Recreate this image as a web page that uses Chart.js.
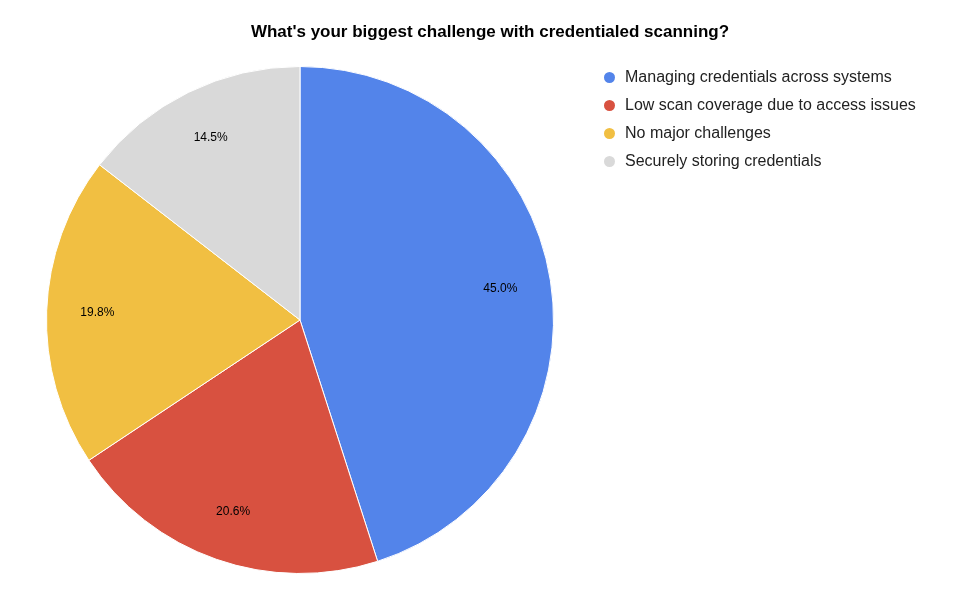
<!DOCTYPE html>
<html><head><meta charset="utf-8">
<script src="https://cdn.jsdelivr.net/npm/chart.js@4"></script>
<style>
body{margin:0;background:#fff;font-family:"Liberation Sans",Arial,sans-serif;}
#wrap{position:relative;width:980px;height:596px;}
#title{position:absolute;top:22px;left:0;width:980px;text-align:center;font-weight:bold;font-size:17px;color:#000;}
#legend{position:absolute;left:604px;top:63px;font-size:16px;color:#222;}
.it{height:28px;line-height:22px;display:flex;align-items:center;}
.dot{width:11px;height:11px;border-radius:50%;margin-right:10px;}
</style></head><body>
<div id="wrap">
<canvas id="c" width="980" height="596"></canvas>
<div id="title">What's your biggest challenge with credentialed scanning?</div>
<div id="legend"></div>
</div>
<script>
const categories=["Managing credentials across systems","Low scan coverage due to access issues","No major challenges","Securely storing credentials"];
const values=[45.0,20.6,19.8,14.5];
const colors=["#5384EA","#D85140","#F1BF42","#D9D9D9"];
const lg=document.getElementById('legend');
categories.forEach((c,i)=>{const d=document.createElement('div');d.className='it';d.innerHTML='<span class="dot" style="background:'+colors[i]+'"></span>'+c;lg.appendChild(d);});
const labelPlugin={id:'lbl',afterDatasetsDraw(chart){const ctx=chart.ctx;const meta=chart.getDatasetMeta(0);ctx.save();ctx.font='12px "Liberation Sans",Arial';ctx.fillStyle='#000';ctx.textAlign='center';ctx.textBaseline='middle';
meta.data.forEach((a,i)=>{const m=(a.startAngle+a.endAngle)/2;const r=a.outerRadius*0.8;ctx.fillText(values[i].toFixed(1)+'%',a.x+Math.cos(m)*r,a.y+Math.sin(m)*r);});ctx.restore();}};
new Chart(document.getElementById('c'),{type:'pie',data:{labels:categories,datasets:[{data:values,backgroundColor:colors,borderColor:'#fff',borderWidth:1}]},
options:{responsive:false,animation:false,layout:{padding:{left:46,top:66,right:426,bottom:22}},plugins:{legend:{display:false},tooltip:{enabled:false}}},plugins:[labelPlugin]});
</script></body></html>
